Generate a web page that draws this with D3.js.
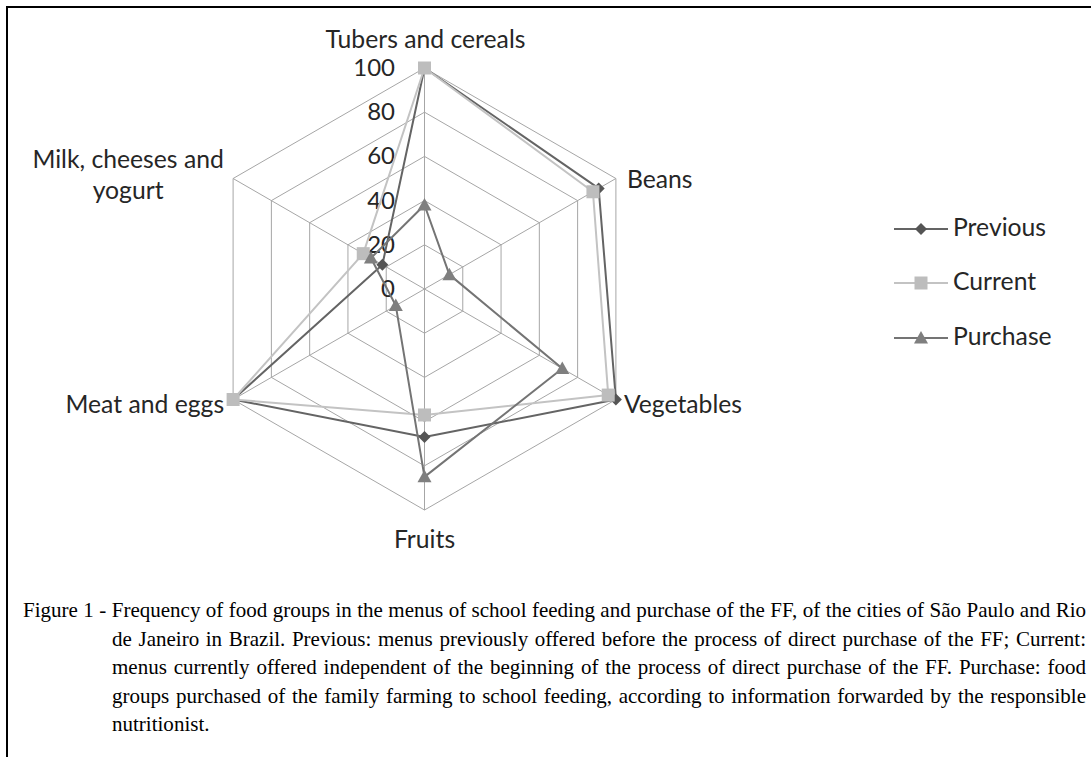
<!DOCTYPE html>
<html><head><meta charset="utf-8">
<script src="https://cdn.jsdelivr.net/npm/d3@7"></script>
<style>body{margin:0;background:#fff} svg{display:block}</style>
</head><body>
<script>
const categories = ["Tubers and cereals","Beans","Vegetables","Fruits","Meat and eggs","Milk, cheeses and yogurt"];
const seriesNames = ["Previous","Current","Purchase"];
const previous = [100, 91, 100, 67, 100, 22];
const current  = [100, 88, 96, 57, 100, 32];
const purchase = [38, 13, 72, 85, 15, 28];
const tickValues = [0, 20, 40, 60, 80, 100];
const captionLines = [
  "Figure 1 - Frequency of food groups in the menus of school feeding and purchase of the FF, of the cities of São Paulo and Rio",
  "de Janeiro in Brazil. Previous: menus previously offered before the process of direct purchase of the FF; Current:",
  "menus currently offered independent of the beginning of the process of direct purchase of the FF. Purchase: food",
  "groups purchased of the family farming to school feeding, according to information forwarded by the responsible",
  "nutritionist."
];

const W = 1091, H = 757;
const svg = d3.select("body").append("svg").attr("width", W).attr("height", H);
svg.append("rect").attr("width", W).attr("height", H).attr("fill", "#fff");
svg.append("path").attr("d", "M7,757V7H1091").attr("fill", "none").attr("stroke", "#000").attr("stroke-width", 2);

const cx = 424.5, cy = 289;
const r = d3.scaleLinear().domain([0, 100]).range([0, 221]);
const angle = d3.scalePoint().domain(d3.range(categories.length)).range([0, 300]);
const pt = (i, v) => {
  const a = angle(i) * Math.PI / 180;
  return [cx + r(v) * Math.sin(a), cy - r(v) * Math.cos(a)];
};

const g = svg.append("g");
// grid
tickValues.filter(t => t > 0).forEach(t => {
  g.append("path")
    .attr("d", d3.line()(d3.range(categories.length).map(i => pt(i, t))) + "Z")
    .attr("fill", "none").attr("stroke", "#a6a6a6").attr("stroke-width", 1);
});
d3.range(categories.length).forEach(i => {
  const p = pt(i, 100);
  g.append("line").attr("x1", cx).attr("y1", cy).attr("x2", p[0]).attr("y2", p[1])
    .attr("stroke", "#a6a6a6").attr("stroke-width", 1);
});

// font sizing (Calibri-like widths)
const FONT = "Lato, 'Open Sans', sans-serif";
const probe = svg.append("text").attr("font-family", FONT).attr("font-size", 100).text(categories[0]);
const fs = 100 * 200 / probe.node().getComputedTextLength();
probe.remove();
const txtColor = "#262626";

// tick labels
tickValues.forEach(t => {
  g.append("text").attr("x", 395).attr("y", cy - r(t) + 2)
    .attr("text-anchor", "end").attr("dominant-baseline", "middle")
    .attr("font-family", FONT).attr("font-size", fs * 0.97).attr("fill", txtColor).text(t);
});

// series
const series = [
  {name: seriesNames[0], values: previous, line: "#646464", marker: "#555555", shape: "diamond"},
  {name: seriesNames[1], values: current,  line: "#c3c3c3", marker: "#bdbdbd", shape: "square"},
  {name: seriesNames[2], values: purchase, line: "#747474", marker: "#7f7f7f", shape: "triangle"}
];
function markerPath(shape) {
  if (shape === "diamond") return "M0,-6L6,0L0,6L-6,0Z";
  if (shape === "square") return "M-6.5,-6.5H6.5V6.5H-6.5Z";
  return "M0,-7L7,5.5H-7Z";
}
series.forEach(s => {
  const pts = s.values.map((v, i) => pt(i, v));
  g.append("path").attr("d", d3.line()(pts) + "Z")
    .attr("fill", "none").attr("stroke", s.line).attr("stroke-width", 2).attr("stroke-linejoin", "round");
});
series.forEach(s => {
  s.values.forEach((v, i) => {
    const p = pt(i, v);
    g.append("path").attr("d", markerPath(s.shape)).attr("transform", `translate(${p[0]},${p[1]})`).attr("fill", s.marker);
  });
});

// category labels
const lab = (x, y, anchor, text) => g.append("text").attr("x", x).attr("y", y).attr("text-anchor", anchor)
  .attr("font-family", FONT).attr("font-size", fs).attr("fill", txtColor).text(text);
let p;
p = pt(0, 100); lab(p[0] + 1, p[1] - 20, "middle", categories[0]);
p = pt(1, 100); lab(p[0] + 11, p[1] + 9, "start", categories[1]);
p = pt(2, 100); lab(p[0] + 8, p[1] + 13, "start", categories[2]);
p = pt(3, 100); lab(p[0], p[1] + 38, "middle", categories[3]);
p = pt(4, 100); lab(p[0] - 9, p[1] + 13, "end", categories[4]);
p = pt(5, 100);
lab(p[0] - 105, p[1] - 11, "middle", "Milk, cheeses and");
lab(p[0] - 105, p[1] + 20, "middle", "yogurt");

// legend
const legY = [229, 283, 338];
series.forEach((s, k) => {
  const lg = svg.append("g");
  lg.append("line").attr("x1", 894).attr("x2", 948).attr("y1", legY[k]).attr("y2", legY[k])
    .attr("stroke", s.line).attr("stroke-width", 2);
  lg.append("path").attr("d", markerPath(s.shape)).attr("transform", `translate(921,${legY[k]})`).attr("fill", s.marker);
  lg.append("text").attr("x", 953).attr("y", legY[k] + 1).attr("dominant-baseline", "middle")
    .attr("font-family", FONT).attr("font-size", fs).attr("fill", txtColor).text(s.name);
});

// caption (justified)
const capFont = "'Liberation Serif', 'Times New Roman', serif";
const capLeft = [23, 112, 112, 112, 112];
const capRight = 1086;
const capProbe = svg.append("text").attr("font-family", capFont).attr("font-size", 100).text(captionLines[0]);
const capFS = 100 * (capRight - capLeft[0] - 4) / capProbe.node().getComputedTextLength();
capProbe.remove();
const capY0 = 617, capDY = 28.5;
captionLines.forEach((line, k) => {
  const t = svg.append("text").attr("x", capLeft[k]).attr("y", capY0 + k * capDY)
    .attr("font-family", capFont).attr("font-size", capFS).attr("fill", "#000").text(line);
  if (k < captionLines.length - 1) {
    const w = t.node().getComputedTextLength();
    const spaces = (line.match(/ /g) || []).length;
    const extra = (capRight - capLeft[k] - w) / spaces;
    t.attr("word-spacing", extra);
  }
});
</script>
</body></html>
